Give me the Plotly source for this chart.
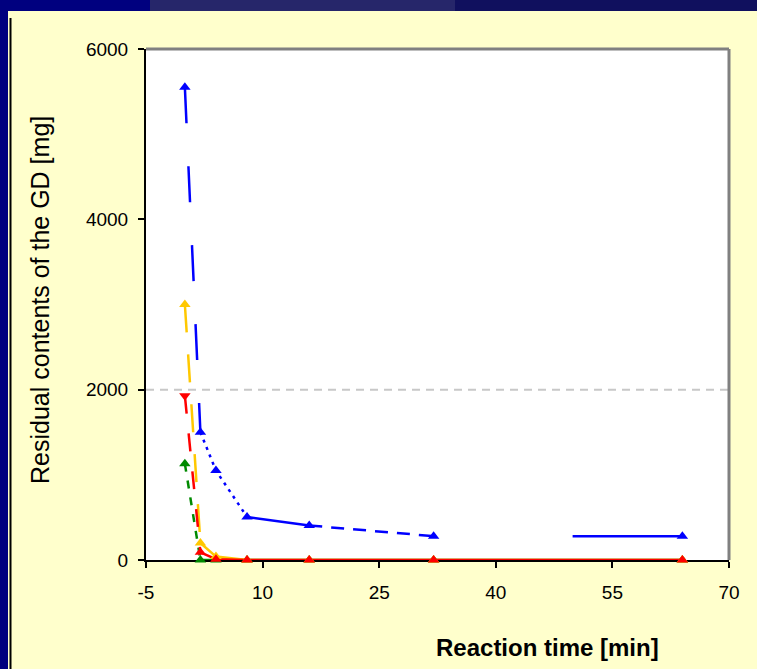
import plotly.graph_objects as go

# ---------------- data ----------------
time_min = [0, 2, 4, 8, 16, 32, 64]
blue_vals = [5550, 1500, 1050, 505, 405, 280, 280]
yellow_vals = [3000, 200, 40, 0, 0, 0, 0]
red_vals = [1930, 90, 10, 0, 0, 0, 0]
green_vals = [1130, 0, 0, 0, 0, 0, 0]
threshold = 2000

x_ticks = [-5, 10, 25, 40, 55, 70]
x_tick_labels = ["-5", "10", "25", "40", "55", "70"]
y_ticks = [0, 2000, 4000, 6000]
y_tick_labels = ["0", "2000", "4000", "6000"]
x_title = "Reaction time [min]"
y_title = "Residual contents of the GD [mg]"

# ---------------- layout geometry ----------------
W, H = 757, 669
ML, MR, MT, MB = 146, 28, 49, 109
PW, PH = W - ML - MR, H - MT - MB


def px(p):
    return (p - ML) / PW


def py(p):
    return (H - MB - p) / PH


BLUE = "#0000FF"
YELLOW = "#FFC800"
RED = "#FF0000"
GREEN = "#008A00"
FONT = "Arial, Liberation Sans, sans-serif"

fig = go.Figure()


def seg(xs, ys, color, dash, width=2.5):
    fig.add_trace(go.Scatter(x=xs, y=ys, mode="lines", cliponaxis=False,
                             line=dict(color=color, width=width, dash=dash),
                             hoverinfo="skip", showlegend=False))


# blue series line pieces
seg(time_min[0:2], blue_vals[0:2], BLUE, "36px,43px")
seg(time_min[1:4], blue_vals[1:4], BLUE, "3px,5px")
seg(time_min[3:5], blue_vals[3:5], BLUE, "solid")
seg(time_min[4:6], blue_vals[4:6], BLUE, "13px,9px")
seg(time_min[5:7], blue_vals[5:7], BLUE, "0px,139px,200px")

# green
seg(time_min[0:2], green_vals[0:2], GREEN, "8px,9px")
seg(time_min[1:], green_vals[1:], GREEN, "solid")
# yellow
seg(time_min[0:2], yellow_vals[0:2], YELLOW, "28px,22px")
seg(time_min[1:], yellow_vals[1:], YELLOW, "solid")
# red
seg(time_min[0:2], red_vals[0:2], RED, "18px,20px")
seg(time_min[1:], red_vals[1:], RED, "solid")


def markers(ys, color, symbols="triangle-up"):
    fig.add_trace(go.Scatter(x=time_min, y=ys, mode="markers", cliponaxis=False,
                             marker=dict(symbol=symbols, size=10, color=color,
                                         line=dict(width=0)),
                             showlegend=False))


markers(blue_vals, BLUE)
markers(green_vals, GREEN)
markers(yellow_vals, YELLOW)
markers(red_vals, RED, ["triangle-down"] + ["triangle-up"] * (len(red_vals) - 1))

shapes = []
# threshold dashed line
shapes.append(dict(type="line", xref="paper", yref="y", x0=0, x1=1,
                   y0=threshold, y1=threshold, layer="below",
                   line=dict(color="#C8C8C8", width=2, dash="8px,6px")))
# grey frame top / right
shapes.append(dict(type="line", xref="paper", yref="paper", x0=0, x1=1, y0=1, y1=1,
                   layer="below", line=dict(color="#808080", width=3)))
shapes.append(dict(type="line", xref="paper", yref="paper", x0=1, x1=1, y0=0, y1=1,
                   layer="below", line=dict(color="#808080", width=3)))
# slide decorations: top band and left border
shapes.append(dict(type="rect", xref="paper", yref="paper", x0=px(0), x1=px(150),
                   y0=py(11), y1=py(0), line=dict(width=0), fillcolor="#00007F", layer="above"))
shapes.append(dict(type="rect", xref="paper", yref="paper", x0=px(150), x1=px(455),
                   y0=py(11), y1=py(0), line=dict(width=0), fillcolor="#26266A", layer="above"))
shapes.append(dict(type="rect", xref="paper", yref="paper", x0=px(455), x1=px(W),
                   y0=py(11), y1=py(0), line=dict(width=0), fillcolor="#10105E", layer="above"))
shapes.append(dict(type="rect", xref="paper", yref="paper", x0=px(0), x1=px(8),
                   y0=py(H), y1=py(0), line=dict(width=0), fillcolor="#00007F", layer="above"))
shapes.append(dict(type="line", xref="paper", yref="paper", x0=px(10.5), x1=px(10.5),
                   y0=py(H), y1=py(18), line=dict(color="#000000", width=2), layer="above"))

axis_common = dict(showgrid=False, zeroline=False, showline=True, linecolor="black",
                   linewidth=2, ticks="outside", ticklen=6, tickwidth=2, tickcolor="black",
                   tickfont=dict(family=FONT, size=19, color="black"), layer="below traces")

fig.update_layout(
    width=W, height=H,
    margin=dict(l=ML, r=MR, t=MT, b=MB),
    paper_bgcolor="#FFFFCC",
    plot_bgcolor="#FFFFFF",
    showlegend=False,
    xaxis=dict(range=[-5, 70], tickvals=x_ticks, ticktext=x_tick_labels,
               ticklabelstandoff=8, **axis_common),
    yaxis=dict(range=[0, 6000], tickvals=y_ticks, ticktext=y_tick_labels,
               ticklabelstandoff=6, **axis_common),
    shapes=shapes,
    annotations=[
        dict(text="<b>" + x_title + "</b>", xref="paper", yref="paper",
             x=px(547), y=py(647), xanchor="center", yanchor="middle", showarrow=False,
             font=dict(family=FONT, size=24, color="black")),
        dict(text=y_title, xref="paper", yref="paper", x=px(40), y=py(300),
             xanchor="center", yanchor="middle", textangle=-90, showarrow=False,
             font=dict(family=FONT, size=25, color="black")),
    ],
)

fig.write_html("out.html")
